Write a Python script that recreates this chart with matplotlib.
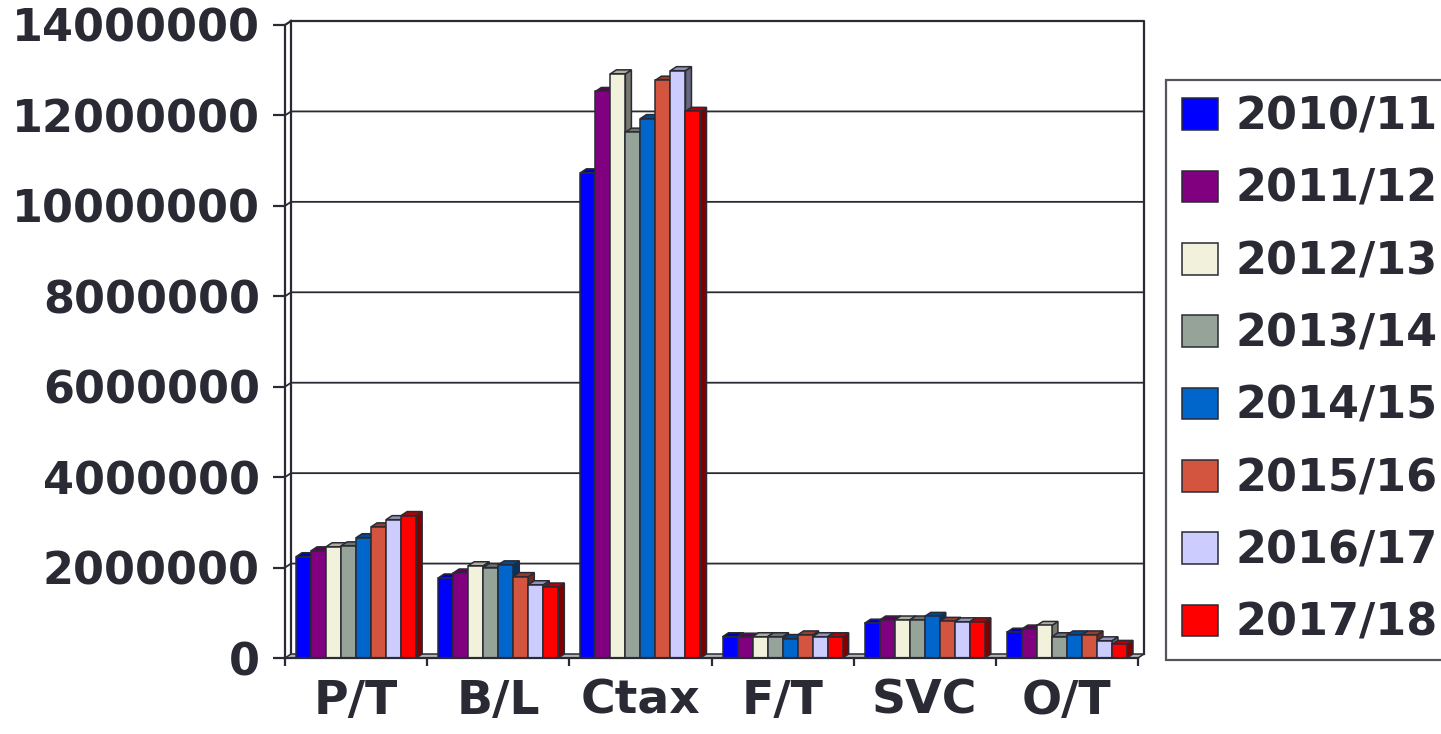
import matplotlib.pyplot as plt
import numpy as np
from matplotlib.axes import Axes
from matplotlib.patches import Patch, Polygon, Rectangle

categories = ["P/T", "B/L", "Ctax", "F/T", "SVC", "O/T"]
years = ["2010/11", "2011/12", "2012/13", "2013/14", "2014/15", "2015/16", "2016/17", "2017/18"]

y2010_11 = [2240000, 1770000, 10730000, 470000, 770000, 570000]
y2011_12 = [2370000, 1880000, 12530000, 460000, 840000, 640000]
y2012_13 = [2460000, 2040000, 12920000, 470000, 840000, 720000]
y2013_14 = [2480000, 2000000, 11630000, 470000, 840000, 470000]
y2014_15 = [2660000, 2060000, 11930000, 430000, 920000, 510000]
y2015_16 = [2900000, 1800000, 12780000, 510000, 810000, 510000]
y2016_17 = [3060000, 1620000, 12990000, 470000, 800000, 380000]
y2017_18 = [3150000, 1570000, 12090000, 470000, 800000, 300000]

yticks = [0, 2000000, 4000000, 6000000, 8000000, 10000000, 12000000, 14000000]

colors = ["#0000ff", "#800080", "#f2f2dc", "#96a398", "#0066cc", "#d4553f", "#ccccff", "#ff0000"]

INK = "#2a2a34"
FIG_W, FIG_H, DPI = 1441, 734, 100
# axes box in pixels: left, right, bottom, top
AX_L, AX_R, AX_B, AX_T = 285, 1138, 658, 25

YMAX = 14000000
DEPTH_PX = (6, 4)  # 3D offset of back plane, pixels (right, up)


def _shade(color: str, k: float) -> tuple:
    r, g, b = plt.matplotlib.colors.to_rgb(color)
    return (r * k, g * k, b * k)


def _draw_bar(ax: Axes, x: float, w: float, v: float, color: str, dx: float, dy: float, z: float) -> None:
    """Front face plus top and side faces of one pseudo-3D column."""
    side = Polygon(
        [(x + w, 0), (x + w + dx, dy), (x + w + dx, v + dy), (x + w, v)],
        facecolor=_shade(color, 0.5), edgecolor=INK, lw=1.1, zorder=z, clip_on=False,
    )
    top = Polygon(
        [(x, v), (x + w, v), (x + w + dx, v + dy), (x + dx, v + dy)],
        facecolor=_shade(color, 0.72), edgecolor=INK, lw=1.1, zorder=z, clip_on=False,
    )
    front = Rectangle((x, 0), w, v, facecolor=color, edgecolor=INK, lw=1.1, zorder=z + 0.5, clip_on=False)
    ax.add_patch(side)
    ax.add_patch(top)
    ax.add_patch(front)


def draw_chart() -> None:
    plt.rcParams["font.family"] = "DejaVu Sans"
    plt.rcParams["font.weight"] = "bold"

    fig = plt.figure(figsize=(FIG_W / DPI, FIG_H / DPI), dpi=DPI)
    ax = fig.add_axes([
        AX_L / FIG_W,
        (FIG_H - AX_B) / FIG_H,
        (AX_R - AX_L) / FIG_W,
        (AX_B - AX_T) / FIG_H,
    ])
    n_cat = len(categories)
    ax.set_xlim(0, n_cat)
    ax.set_ylim(0, YMAX)
    for s in ax.spines.values():
        s.set_visible(False)

    # pixel offsets in data units
    dx = DEPTH_PX[0] * n_cat / (AX_R - AX_L)
    dy = DEPTH_PX[1] * YMAX / (AX_B - AX_T)

    # back wall, side wall and floor
    ax.plot([dx, n_cat + dx, n_cat + dx], [YMAX + dy, YMAX + dy, dy], color=INK, lw=1.6, clip_on=False, zorder=1)
    ax.plot([0, 0], [0, YMAX], color=INK, lw=1.6, clip_on=False, zorder=1)
    ax.plot([dx, dx], [dy, YMAX + dy], color=INK, lw=1.6, clip_on=False, zorder=1)
    ax.plot([0, dx], [YMAX, YMAX + dy], color=INK, lw=1.6, clip_on=False, zorder=1)
    for t in yticks[1:-1]:
        ax.plot([0, dx, n_cat + dx], [t, t + dy, t + dy], color=INK, lw=1.3, zorder=1, clip_on=False)
    floor = Polygon(
        [(0, 0), (n_cat, 0), (n_cat + dx, dy), (dx, dy)],
        facecolor="#b4b4b8", edgecolor=INK, lw=1.1, zorder=1.5, clip_on=False,
    )
    ax.add_patch(floor)
    ax.plot([0, n_cat], [0, 0], color=INK, lw=1.6, clip_on=False, zorder=30)

    series = [y2010_11, y2011_12, y2012_13, y2013_14, y2014_15, y2015_16, y2016_17, y2017_18]
    group_w = 0.845
    bar_w = group_w / len(series)
    for ci in range(n_cat):
        x0 = ci + (1 - group_w) / 2
        for si, vals in enumerate(series):
            _draw_bar(ax, x0 + si * bar_w, bar_w, vals[ci], colors[si], dx, dy, 2 + si)

    # category boundary ticks, labels centred between them
    ax.set_xticks(np.arange(n_cat + 1))
    ax.set_xticklabels([])
    ax.set_xticks(np.arange(n_cat) + 0.5, minor=True)
    ax.set_xticklabels(categories, minor=True, fontsize=34, fontweight="bold", color=INK)
    ax.tick_params(axis="x", which="major", length=6, width=1.6, color=INK, direction="out")
    ax.tick_params(axis="x", which="minor", length=0, pad=15)

    ax.set_yticks(yticks)
    ax.set_yticklabels([str(t) for t in yticks], fontsize=32, fontweight="bold", color=INK)
    ax.tick_params(axis="y", length=9, width=1.6, color=INK, pad=9)

    handles = [Patch(facecolor=c, edgecolor=INK, lw=1.1) for c in colors]
    leg = fig.legend(
        handles, years,
        loc="upper left",
        bbox_to_anchor=(1166 / FIG_W, (FIG_H - 80) / FIG_H),
        borderaxespad=0.0,
        prop={"size": 32, "weight": "bold"},
        handlelength=0.83,
        handleheight=0.72,
        handletextpad=0.38,
        labelspacing=0.66,
        borderpad=0.35,
        fancybox=False,
        frameon=True,
    )
    leg.get_frame().set_edgecolor(INK)
    leg.get_frame().set_linewidth(1.6)
    for t in leg.get_texts():
        t.set_color(INK)

    fig.savefig("out.png", dpi=DPI)


if __name__ == "__main__":
    draw_chart()
